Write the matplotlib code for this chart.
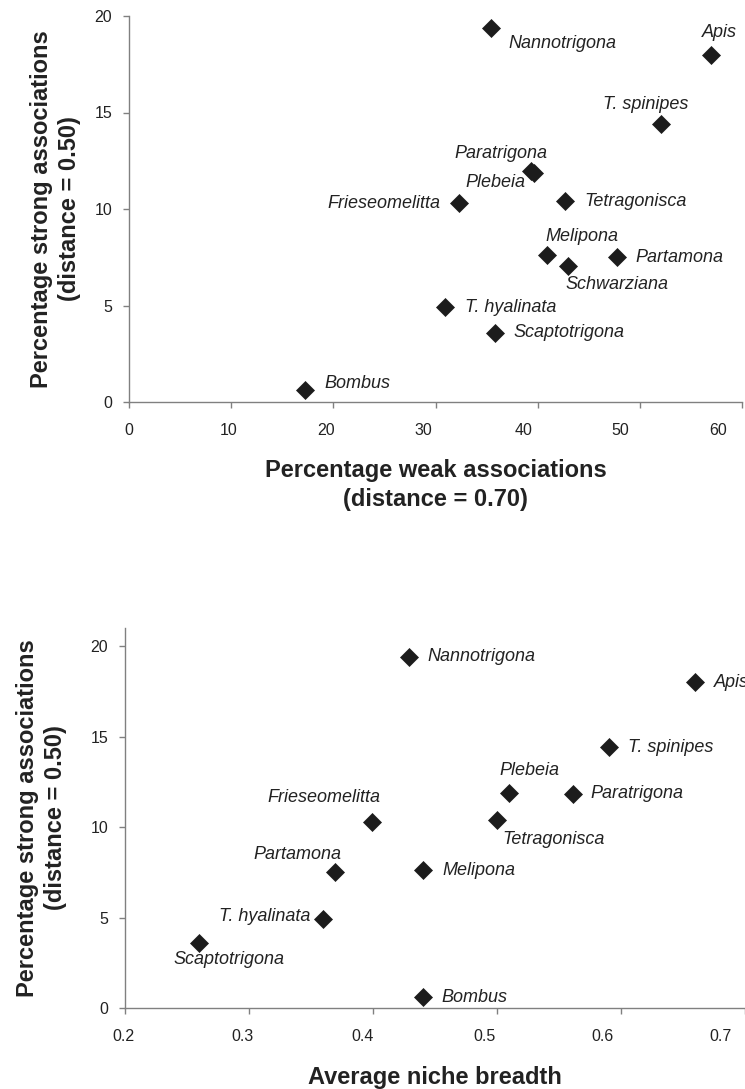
import matplotlib
matplotlib.use("Agg")
import matplotlib.pyplot as plt
from matplotlib import font_manager
from matplotlib.transforms import ScaledTranslation

# ---------------- data ----------------
# Top panel
top_species = ["Nannotrigona", "Apis", "T. spinipes", "Paratrigona", "Plebeia",
               "Frieseomelitta", "Tetragonisca", "Melipona", "Schwarziana",
               "Partamona", "T. hyalinata", "Scaptotrigona", "Bombus"]
top_weak = [35.4, 57.0, 52.1, 39.3, 39.6, 32.3, 42.7, 40.9, 43.0, 47.8, 30.9, 35.8, 17.25]
top_strong = [19.4, 18.0, 14.4, 11.95, 11.85, 10.3, 10.4, 7.6, 7.05, 7.5, 4.9, 3.6, 0.6]

# Bottom panel
bot_species = ["Nannotrigona", "Apis", "T. spinipes", "Plebeia", "Paratrigona",
               "Frieseomelitta", "Tetragonisca", "Partamona", "Melipona",
               "T. hyalinata", "Scaptotrigona", "Bombus"]
bot_niche = [0.429, 0.660, 0.590, 0.510, 0.561, 0.399, 0.500, 0.369, 0.440, 0.360, 0.260, 0.440]
bot_strong = [19.4, 18.0, 14.4, 11.9, 11.85, 10.3, 10.4, 7.5, 7.6, 4.9, 3.6, 0.6]

top_xticks = [0, 10, 20, 30, 40, 50, 60]
bot_xticks = [0.2, 0.3, 0.4, 0.5, 0.6, 0.7]
yticks = [0, 5, 10, 15, 20]

# label placement (pixel offsets: dx right, dy down) and horizontal alignment
top_offsets = {
    "Nannotrigona": (18, 16, "left"), "Apis": (-9.5, -22, "left"),
    "T. spinipes": (-15.5, -20, "center"), "Paratrigona": (16.5, -18, "right"),
    "Plebeia": (-8.5, 9, "right"), "Frieseomelitta": (-19, 0, "right"),
    "Tetragonisca": (19, 0, "left"), "Melipona": (-1, -19, "left"),
    "Schwarziana": (-3, 18.5, "left"), "Partamona": (18, 0, "left"),
    "T. hyalinata": (20, 0, "left"), "Scaptotrigona": (18.5, 0, "left"),
    "Bombus": (19.5, -6.5, "left"),
}
bot_offsets = {
    "Nannotrigona": (18, 0, "left"), "Apis": (18, 0, "left"),
    "T. spinipes": (19, 0, "left"), "Plebeia": (20, -22, "center"),
    "Paratrigona": (18, 0, "left"), "Frieseomelitta": (-48, -24, "center"),
    "Tetragonisca": (5, 20, "left"), "Partamona": (7, -18, "right"),
    "Melipona": (19.5, 0, "left"), "T. hyalinata": (-13, -3, "right"),
    "Scaptotrigona": (-26, 16.5, "left"), "Bombus": (19, 0, "left"),
}
# leftward drift (px) of the x tick labels, as printed in the original
top_label_shift = [0, 3, 7, 12, 14, 20, 24]
bot_label_shift = [2, 6, 10, 13, 18, 24]

# ---------------- fonts ----------------
available = {f.name for f in font_manager.fontManager.ttflist}
if "Liberation Sans Narrow" in available:
    tick_family = ["Liberation Sans Narrow", "DejaVu Sans"]
    tick_size = 13
else:
    tick_family = ["Liberation Sans", "DejaVu Sans"]
    tick_size = 11.5
main_family = ["Liberation Sans", "Arial", "DejaVu Sans"]
plt.rcParams["font.family"] = main_family

W, H = 745, 1089
fig = plt.figure(figsize=(W / 100, H / 100), dpi=100)

ax1 = fig.add_axes([129 / W, 1 - 402 / H, 613 / W, 386 / H])
ax2 = fig.add_axes([125 / W, 1 - 1008 / H, 620 / W, 380 / H])

marker_color = "#1c1c1c"
text_color = "#222222"
spine_color = "#808080"
px2pt = 72 / 100


def style_axes(ax, xticks, xlim, ylim, shifts):
    ax.set_xlim(*xlim)
    ax.set_ylim(*ylim)
    ax.set_xticks(xticks)
    ax.set_yticks(yticks)
    for s in ["top", "right"]:
        ax.spines[s].set_visible(False)
    for s in ["left", "bottom"]:
        ax.spines[s].set_color(spine_color)
        ax.spines[s].set_linewidth(1.0)
    ax.tick_params(direction="out", length=4, width=1.0, color=spine_color,
                   labelcolor=text_color, labelsize=tick_size)
    ax.tick_params(axis="x", pad=11)
    ax.tick_params(axis="y", pad=8)
    for lab in ax.get_xticklabels() + ax.get_yticklabels():
        lab.set_family(tick_family)
    for tick, sh in zip(ax.xaxis.get_major_ticks(), shifts):
        lab = tick.label1
        lab.set_transform(lab.get_transform() +
                          ScaledTranslation(-sh / 100, 0, fig.dpi_scale_trans))
    ax.patch.set_alpha(0)


def plot_points(ax, xs, ys, names, offsets):
    ax.plot(xs, ys, linestyle="none", marker="D", markersize=9,
            color=marker_color, markeredgewidth=0.5, clip_on=False, zorder=3)
    for x, y, n in zip(xs, ys, names):
        dx, dy, ha = offsets[n]
        ax.annotate(n, (x, y), xytext=(dx * px2pt, -dy * px2pt),
                    textcoords="offset points", ha=ha, va="center",
                    fontsize=13, style="italic", color=text_color,
                    annotation_clip=False)


style_axes(ax1, top_xticks, (0, 60), (0, 20), top_label_shift)
plot_points(ax1, top_weak, top_strong, top_species, top_offsets)
ax1.set_xlabel("Percentage weak associations\n(distance = 0.70)",
               fontsize=17, fontweight="bold", color=text_color, linespacing=1.3)
ax1.set_ylabel("Percentage strong associations\n(distance = 0.50)",
               fontsize=17, fontweight="bold", color=text_color, linespacing=1.3)
ax1.xaxis.set_label_coords(0.5, -0.148)
ax1.yaxis.set_label_coords(-0.078, 0.5)

style_axes(ax2, bot_xticks, (0.2, 0.7), (0, 21), bot_label_shift)
plot_points(ax2, bot_niche, bot_strong, bot_species, bot_offsets)
ax2.set_xlabel("Average niche breadth", fontsize=17, fontweight="bold",
               color=text_color)
ax2.set_ylabel("Percentage strong associations\n(distance = 0.50)",
               fontsize=17, fontweight="bold", color=text_color, linespacing=1.3)
ax2.xaxis.set_label_coords(0.5, -0.153)
ax2.yaxis.set_label_coords(-0.093, 0.5)

fig.savefig("out.png", dpi=100, facecolor="white")
